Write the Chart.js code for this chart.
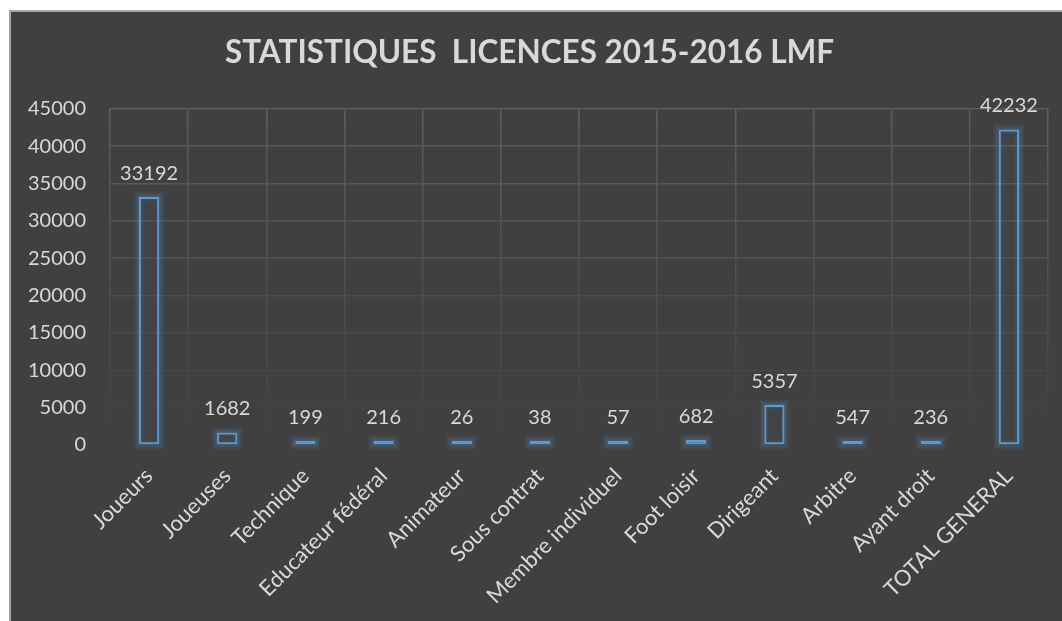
<!DOCTYPE html>
<html>
<head>
<meta charset="utf-8">
<script src="https://cdn.jsdelivr.net/npm/chart.js@4"></script>
<style>
  html, body { margin: 0; padding: 0; background: #ffffff; overflow: hidden; }
  #frame {
    position: absolute; left: 9px; top: 10px; width: 1062px; height: 609px;
    background: #404040; border-top: 2px solid #a6a6a6; border-left: 2px solid #a6a6a6;
  }
  canvas { display: block; }
</style>
</head>
<body>
<div id="frame"><canvas id="c" width="1062" height="609"></canvas></div>
<script>
const categories = ["Joueurs", "Joueuses", "Technique", "Educateur fédéral", "Animateur", "Sous contrat",
  "Membre individuel", "Foot loisir", "Dirigeant", "Arbitre", "Ayant droit", "TOTAL GENERAL"];
const licences = [33192, 1682, 199, 216, 26, 38, 57, 682, 5357, 547, 236, 42232];
const yTicks = [0, 5000, 10000, 15000, 20000, 25000, 30000, 35000, 40000, 45000];
const titleText = "STATISTIQUES  LICENCES 2015-2016 LMF";

const TEXT = "#d9d9d9";
const FONT = "Lato, 'Liberation Sans', sans-serif";

// soft blue halo around each bar (concentric translucent outlines), from the bar elements' geometry
const glow = {
  id: "glow",
  beforeDatasetDraw(chart) {
    const ctx = chart.ctx;
    const meta = chart.getDatasetMeta(0);
    ctx.save();
    ctx.lineWidth = 1;
    meta.data.forEach(bar => {
      const p = bar.getProps(["x", "y", "base", "width"], true);
      const top = Math.min(p.y, p.base), h = Math.abs(p.base - p.y);
      const left = p.x - p.width / 2;
      for (let d = 7; d >= 1; d--) {
        const a = 0.3 * Math.pow(1 - (d - 1) / 7, 1.5);
        ctx.strokeStyle = `rgba(91,155,213,${a.toFixed(3)})`;
        ctx.strokeRect(left - d + 0.5, top - d + 0.5, p.width + 2 * d - 1, h + 2 * d - 1);
      }
      // faint inner halo
      for (let d = 1; d <= 3; d++) {
        if (h <= 2 * d + 4) break;
        ctx.strokeStyle = `rgba(91,155,213,${(0.16 * (1 - d / 4)).toFixed(3)})`;
        ctx.strokeRect(left + 2 + d - 0.5, top + 2 + d - 0.5, p.width - 4 - 2 * d + 1, h - 4 - 2 * d + 1);
      }
    });
    ctx.restore();
  }
};

const valueLabels = {
  id: "valueLabels",
  afterDatasetsDraw(chart) {
    const ctx = chart.ctx;
    const meta = chart.getDatasetMeta(0);
    ctx.save();
    ctx.fillStyle = TEXT;
    ctx.font = "20px " + FONT;
    ctx.textAlign = "center";
    ctx.textBaseline = "alphabetic";
    meta.data.forEach((bar, i) => {
      ctx.fillText(String(licences[i]), bar.x, bar.y - 17);
    });
    ctx.restore();
  }
};

function vGrad(ctx) {
  const ca = ctx.chart.chartArea;
  if (!ca) return "#595959";
  const g = ctx.chart.ctx.createLinearGradient(0, ca.top, 0, ca.bottom);
  g.addColorStop(0, "#5e5e5e");
  g.addColorStop(1, "#404040");
  return g;
}

new Chart(document.getElementById("c"), {
  type: "bar",
  data: {
    labels: categories,
    datasets: [{
      data: licences,
      backgroundColor: "rgba(91,155,213,0.04)",
      borderColor: "#5b9bd5",
      borderWidth: 2,
      borderSkipped: false,
      minBarLength: 4,
      barPercentage: 0.26,
      categoryPercentage: 1
    }]
  },
  options: {
    responsive: false,
    animation: false,
    devicePixelRatio: 1,
    layout: { padding: { left: 0, right: 25, top: 0, bottom: 0 } },
    plugins: {
      legend: { display: false },
      tooltip: { enabled: false },
      title: {
        display: true,
        text: titleText,
        color: TEXT,
        font: { family: FONT, size: 31.5, weight: "bold" },
        padding: { top: 22, bottom: 37 }
      }
    },
    scales: {
      x: {
        grid: { color: vGrad, lineWidth: 1.5, drawTicks: false, offset: true },
        border: { display: false },
        ticks: {
          color: TEXT, font: { family: FONT, size: 22 },
          maxRotation: 45, minRotation: 45, padding: 18, autoSkip: false
        },
        afterFit(axis) { axis.height = 176; }
      },
      y: {
        min: 0, max: 45000,
        afterBuildTicks(axis) { axis.ticks = yTicks.map(v => ({ value: v })); },
        grid: {
          drawTicks: false, lineWidth: 1.5,
          color: (c) => {
            const t = c.tick ? c.tick.value / 45000 : 1;
            const v = Math.round(64 + 30 * t);
            return `rgb(${v},${v},${v})`;
          }
        },
        border: { display: false },
        ticks: {
          color: TEXT, font: { family: FONT, size: 20 }, padding: 24,
          callback: (v) => String(v)
        },
        afterFit(axis) { axis.width = 99; }
      }
    }
  },
  plugins: [glow, valueLabels]
});
</script>
</body>
</html>
